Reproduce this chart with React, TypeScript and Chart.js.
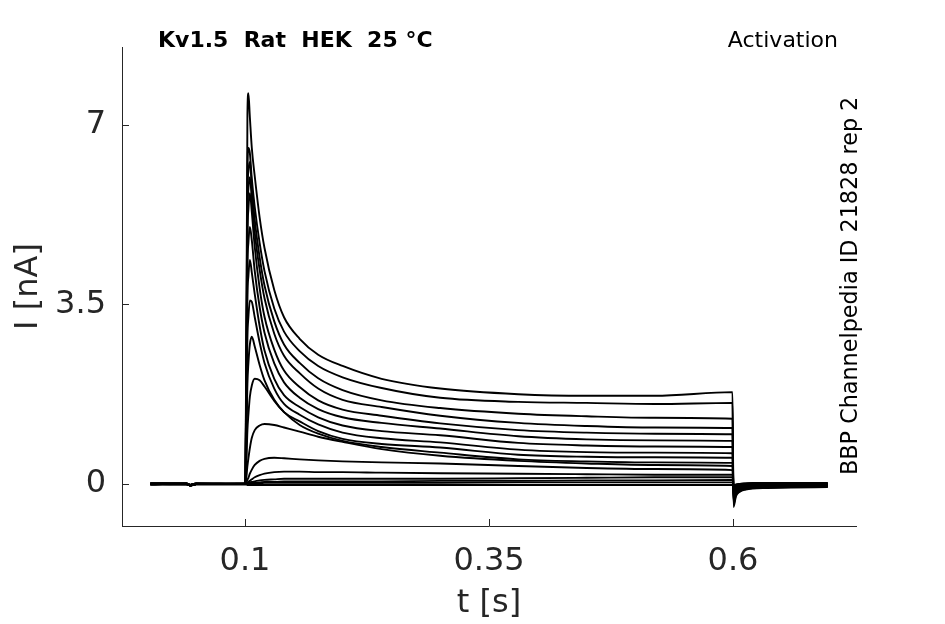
import React, { useEffect, useRef } from 'react';
import { Chart, ChartConfiguration, registerables } from 'chart.js';

Chart.register(...registerables);

// sample times [s] shared by all sweeps
const timeS = [
  0.003, 0.04, 0.044, 0.05, 0.1005,
  0.1025, 0.1035, 0.105, 0.107, 0.11, 0.115, 0.12, 0.13, 0.14, 0.156, 0.175, 0.2, 0.24, 0.3, 0.38, 0.45, 0.52, 0.5995,
  0.6005, 0.603, 0.607, 0.613, 0.62, 0.635, 0.66, 0.697,
];

// current [nA] per voltage step
const sweep01 = [0.01, 0.0, -0.02, 0.01, 0.01, 7.2, 7.62, 7.15, 6.55, 6.0, 5.2, 4.6, 3.78, 3.25, 2.83, 2.52, 2.3, 2.05, 1.86, 1.75, 1.72, 1.72, 1.79, -0.45, -0.24, -0.15, -0.11, -0.09, -0.08, -0.07, -0.06];
const sweep02 = [0, 0.01, -0.02, 0, 0, 6.1, 6.55, 6.45, 5.95, 5.4, 4.7, 4.15, 3.42, 2.97, 2.59, 2.3, 2.08, 1.87, 1.68, 1.6, 1.58, 1.56, 1.58, -0.4, -0.22, -0.14, -0.1, -0.08, -0.07, -0.06, -0.05];
const sweep03 = [-0.01, 0, -0.03, 0, 0.01, 5.6, 6.1, 6.28, 5.8, 5.15, 4.42, 3.87, 3.17, 2.72, 2.36, 2.06, 1.83, 1.63, 1.48, 1.37, 1.32, 1.29, 1.27, -0.36, -0.2, -0.13, -0.09, -0.07, -0.06, -0.05, -0.05];
const sweep04 = [0.01, 0.01, -0.02, 0, 0, 5.2, 5.75, 5.98, 5.55, 4.9, 4.18, 3.62, 2.93, 2.5, 2.16, 1.86, 1.64, 1.5, 1.33, 1.19, 1.13, 1.1, 1.09, -0.33, -0.18, -0.12, -0.08, -0.06, -0.05, -0.05, -0.04];
const sweep05 = [0, -0.01, -0.03, 0.01, 0, 4.85, 5.35, 5.67, 5.3, 4.62, 3.82, 3.26, 2.62, 2.21, 1.89, 1.63, 1.45, 1.33, 1.18, 1.05, 1.0, 0.98, 0.97, -0.3, -0.16, -0.1, -0.07, -0.05, -0.04, -0.04, -0.04];
const sweep06 = [0.01, 0, -0.02, 0, 0.01, 4.25, 4.7, 5.01, 4.75, 4.15, 3.45, 2.95, 2.35, 1.98, 1.68, 1.46, 1.3, 1.19, 1.08, 0.93, 0.87, 0.85, 0.84, -0.27, -0.14, -0.09, -0.06, -0.05, -0.04, -0.03, -0.03];
const sweep07 = [0, 0.01, -0.03, 0, 0, 3.65, 4.05, 4.37, 4.12, 3.7, 3.08, 2.6, 2.05, 1.73, 1.5, 1.3, 1.14, 1.03, 0.95, 0.8, 0.75, 0.73, 0.72, -0.24, -0.13, -0.08, -0.05, -0.04, -0.03, -0.03, -0.03];
const sweep08 = [-0.01, 0, -0.02, 0.01, 0, 2.85, 3.25, 3.58, 3.55, 3.25, 2.76, 2.36, 1.86, 1.56, 1.35, 1.16, 1.0, 0.89, 0.81, 0.67, 0.62, 0.61, 0.6, -0.21, -0.11, -0.07, -0.05, -0.04, -0.03, -0.02, -0.02];
const sweep09 = [0, 0, -0.03, 0, 0.01, 1.95, 2.35, 2.72, 2.87, 2.68, 2.32, 2.02, 1.64, 1.4, 1.22, 1.03, 0.88, 0.78, 0.71, 0.57, 0.53, 0.52, 0.51, -0.18, -0.1, -0.06, -0.04, -0.03, -0.02, -0.02, -0.02];
const sweep10 = [0.01, 0, -0.02, 0, 0, 1.05, 1.35, 1.7, 1.92, 2.05, 2.02, 1.9, 1.62, 1.4, 1.15, 0.98, 0.84, 0.72, 0.61, 0.48, 0.44, 0.42, 0.41, -0.15, -0.08, -0.05, -0.03, -0.02, -0.02, -0.01, -0.01];
const sweep11 = [0, 0.01, -0.02, 0.01, 0, 0.35, 0.5, 0.7, 0.9, 1.05, 1.14, 1.17, 1.15, 1.1, 1.02, 0.92, 0.82, 0.68, 0.55, 0.45, 0.4, 0.37, 0.35, -0.12, -0.06, -0.04, -0.02, -0.01, -0.01, 0, 0];
const sweep12 = [0, 0, -0.02, 0, 0, 0.08, 0.12, 0.2, 0.28, 0.37, 0.45, 0.49, 0.51, 0.5, 0.48, 0.46, 0.44, 0.42, 0.4, 0.35, 0.31, 0.29, 0.27, -0.09, -0.05, -0.03, -0.01, 0, 0, 0.01, 0.01];
const sweep13 = [0.01, 0, -0.03, 0, 0.01, 0.03, 0.04, 0.06, 0.09, 0.13, 0.17, 0.2, 0.23, 0.24, 0.24, 0.23, 0.23, 0.22, 0.21, 0.2, 0.19, 0.18, 0.18, -0.07, -0.04, -0.02, 0, 0.01, 0.01, 0.01, 0.01];
const sweep14 = [0, 0.01, -0.02, 0, 0, 0.01, 0.02, 0.03, 0.04, 0.05, 0.07, 0.08, 0.09, 0.1, 0.1, 0.1, 0.1, 0.1, 0.1, 0.11, 0.12, 0.13, 0.13, -0.05, -0.02, 0, 0.01, 0.02, 0.02, 0.02, 0.02];
const sweep15 = [-0.01, 0, -0.03, 0, 0, 0, 0.01, 0.01, 0.02, 0.02, 0.03, 0.04, 0.04, 0.05, 0.05, 0.05, 0.05, 0.05, 0.06, 0.06, 0.07, 0.07, 0.08, -0.04, -0.02, 0, 0.01, 0.01, 0.01, 0.01, 0.01];
const sweep16 = [0, 0, -0.02, 0, 0, 0, 0, 0.01, 0.01, 0.01, 0.01, 0.02, 0.02, 0.02, 0.02, 0.02, 0.02, 0.02, 0.02, 0.03, 0.03, 0.03, 0.03, -0.03, -0.01, 0, 0, 0, 0, 0, 0];
const sweep17 = [0, -0.01, -0.03, -0.01, -0.01, -0.02, -0.02, -0.02, -0.02, -0.02, -0.02, -0.02, -0.02, -0.02, -0.02, -0.02, -0.02, -0.02, -0.02, -0.02, -0.02, -0.02, -0.02, -0.03, -0.04, -0.05, -0.06, -0.06, -0.05, -0.05, -0.05];

const sweeps = [
  sweep01, sweep02, sweep03, sweep04, sweep05, sweep06, sweep07, sweep08, sweep09,
  sweep10, sweep11, sweep12, sweep13, sweep14, sweep15, sweep16, sweep17,
];

const xTicks = [0.1, 0.35, 0.6];
const yTicks = [0, 3.5, 7];

const titleLeft = 'Kv1.5  Rat  HEK  25 °C';
const titleRight = 'Activation';
const sideNote = 'BBP Channelpedia ID 21828 rep 2';

const FONT = '"DejaVu Sans", "Liberation Sans", sans-serif';
const AXIS_COLOR = '#262626';

// inward tick marks plus the header / side texts
const decorations = {
  id: 'decorations',
  afterDraw(chart: Chart) {
    const { ctx, chartArea, scales } = chart;
    ctx.save();
    ctx.strokeStyle = AXIS_COLOR;
    ctx.lineWidth = 1;
    ctx.beginPath();
    xTicks.forEach((v) => {
      const px = Math.round(scales.x.getPixelForValue(v)) + 0.5;
      ctx.moveTo(px, chartArea.bottom);
      ctx.lineTo(px, chartArea.bottom - 7);
    });
    yTicks.forEach((v) => {
      const py = Math.round(scales.y.getPixelForValue(v)) + 0.5;
      ctx.moveTo(chartArea.left, py);
      ctx.lineTo(chartArea.left + 7, py);
    });
    ctx.stroke();

    ctx.fillStyle = '#000';
    ctx.textBaseline = 'alphabetic';
    ctx.font = `bold 22px ${FONT}`;
    ctx.textAlign = 'left';
    ctx.fillText(titleLeft, 158, 47);
    ctx.font = `22px ${FONT}`;
    ctx.textAlign = 'right';
    ctx.fillText(titleRight, 838, 47);

    ctx.translate(857, 475);
    ctx.rotate(-Math.PI / 2);
    ctx.textAlign = 'left';
    ctx.font = `22.3px ${FONT}`;
    ctx.fillText(sideNote, 0, 0);
    ctx.restore();
  },
};

const App: React.FC = () => {
  const canvasRef = useRef<HTMLCanvasElement | null>(null);
  const chartRef = useRef<Chart | null>(null);

  useEffect(() => {
    if (!canvasRef.current) return;

    const config: ChartConfiguration<'line'> = {
      type: 'line',
      data: {
        datasets: sweeps.map((values, i) => ({
          label: `sweep ${i + 1}`,
          data: values.map((y, k) => ({ x: timeS[k], y })),
          borderColor: '#000',
          borderWidth: 1.9,
          pointRadius: 0,
          fill: false,
          cubicInterpolationMode: 'monotone' as const,
        })),
      },
      options: {
        animation: false,
        responsive: false,
        events: [],
        layout: { padding: { top: 47, right: 89, left: 0, bottom: 0 } },
        plugins: {
          legend: { display: false },
          tooltip: { enabled: false },
        },
        scales: {
          x: {
            type: 'linear',
            min: -0.026,
            max: 0.726,
            afterBuildTicks: (scale) => {
              scale.ticks = xTicks.map((value) => ({ value }));
            },
            afterFit: (scale) => {
              scale.height = 98;
            },
            ticks: {
              autoSkip: false,
              maxRotation: 0,
              padding: 16,
              color: AXIS_COLOR,
              font: { family: FONT, size: 32 },
              callback: (v) => String(v),
            },
            grid: { display: false, drawTicks: false },
            border: { display: true, color: AXIS_COLOR, width: 1 },
            title: {
              display: true,
              text: 't [s]',
              color: AXIS_COLOR,
              font: { family: FONT, size: 32 },
              padding: { top: 0, bottom: 1 },
            },
          },
          y: {
            type: 'linear',
            min: -0.82,
            max: 8.52,
            afterBuildTicks: (scale) => {
              scale.ticks = yTicks.map((value) => ({ value }));
            },
            afterFit: (scale) => {
              scale.width = 122;
            },
            ticks: {
              autoSkip: false,
              padding: 16,
              color: AXIS_COLOR,
              font: { family: FONT, size: 32 },
              callback: (v) => String(v),
            },
            grid: { display: false, drawTicks: false },
            border: { display: true, color: AXIS_COLOR, width: 1 },
            title: {
              display: true,
              text: 'I [nA]',
              color: AXIS_COLOR,
              font: { family: FONT, size: 32 },
              padding: { top: 9, bottom: 0 },
            },
          },
        },
      },
      plugins: [decorations],
    };

    chartRef.current = new Chart(canvasRef.current, config);

    return () => {
      if (chartRef.current) {
        chartRef.current.destroy();
        chartRef.current = null;
      }
    };
  }, []);

  return (
    <div style={{ position: 'absolute', left: 0, top: 0, width: 945, height: 624, background: '#fff' }}>
      <canvas ref={canvasRef} width={945} height={624} style={{ width: '945px', height: '624px' }} />
    </div>
  );
};

export default App;
